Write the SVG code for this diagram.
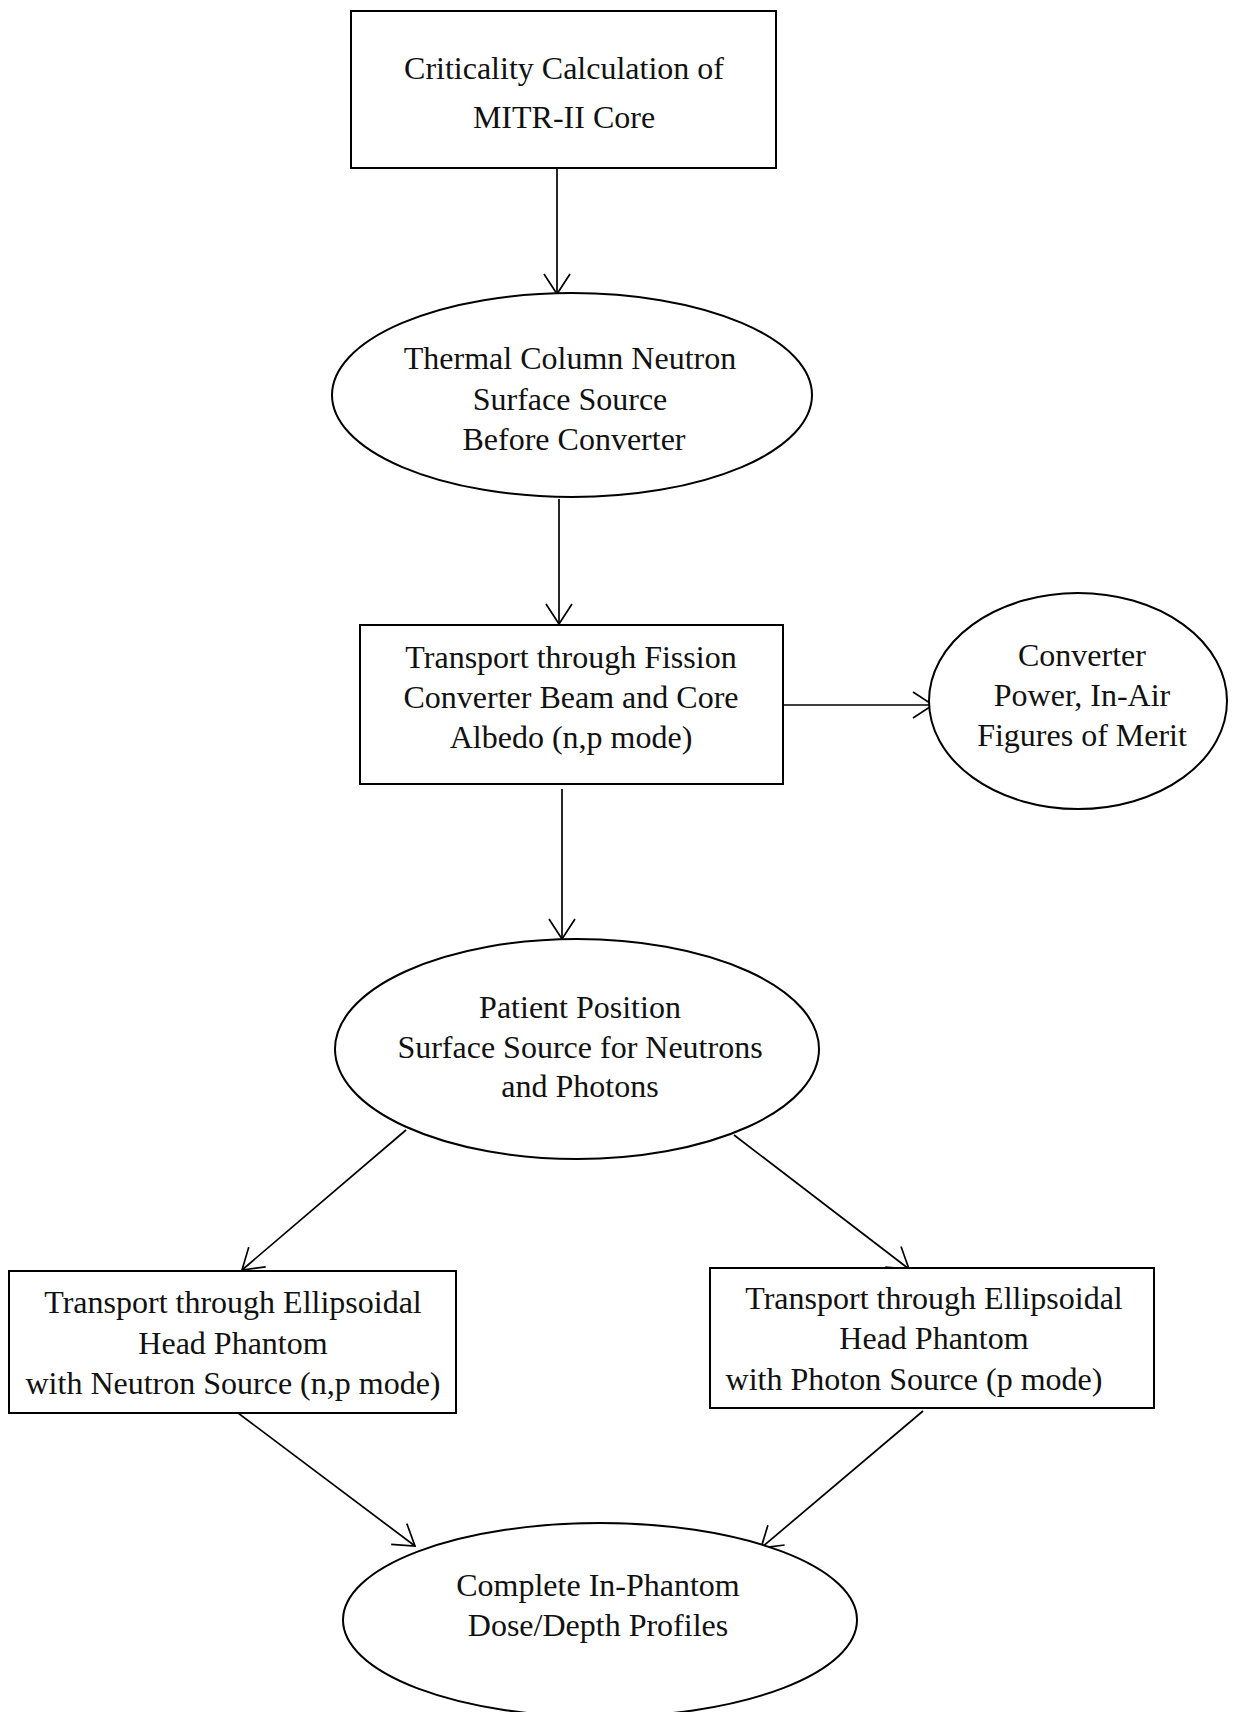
<svg xmlns="http://www.w3.org/2000/svg" width="1239" height="1712" viewBox="0 0 1239 1712">
<defs>
<style>
.n{fill:#fff;stroke:#000;stroke-width:2}
.t{font-family:"Liberation Serif","Times New Roman",serif;font-size:32px;fill:#111;text-anchor:middle}
.c{stroke:#000;stroke-width:1.7;fill:none;marker-end:url(#ah)}
</style>
<marker id="ah" viewBox="0 0 22 28" refX="21" refY="14" markerWidth="22" markerHeight="28" markerUnits="userSpaceOnUse" orient="auto">
<polyline points="1,1 21,14 1,27" fill="none" stroke="#000" stroke-width="1.7"/>
</marker>
</defs>
<rect width="1239" height="1712" fill="#fff"/>
<g id="connectors">
<line class="c" x1="557" y1="168" x2="557" y2="294"/>
<line class="c" x1="559" y1="499" x2="559" y2="624"/>
<line class="c" x1="783" y1="705" x2="933" y2="705"/>
<line class="c" x1="562" y1="789" x2="562" y2="939"/>
<line class="c" x1="406" y1="1130" x2="242" y2="1270"/>
<line class="c" x1="734" y1="1135" x2="909" y2="1269"/>
<line class="c" x1="238" y1="1413" x2="415" y2="1546"/>
<line class="c" x1="923" y1="1411" x2="761" y2="1548"/>
</g>
<g id="n1">
<rect class="n" x="351" y="11" width="425" height="157"/>
<text class="t" x="564" y="79">Criticality Calculation of</text>
<text class="t" x="564" y="128">MITR-II Core</text>
</g>
<g id="n2">
<ellipse class="n" cx="572" cy="395" rx="240" ry="102"/>
<text class="t" x="570" y="369">Thermal Column Neutron</text>
<text class="t" x="570" y="410">Surface Source</text>
<text class="t" x="574" y="450">Before Converter</text>
</g>
<g id="n3">
<rect class="n" x="360" y="625" width="423" height="159"/>
<text class="t" x="571" y="668">Transport through Fission</text>
<text class="t" x="571" y="708">Converter Beam and Core</text>
<text class="t" x="571" y="748">Albedo (n,p mode)</text>
</g>
<g id="n4">
<ellipse class="n" cx="1078" cy="701" rx="149" ry="108"/>
<text class="t" x="1082" y="666">Converter</text>
<text class="t" x="1082" y="706">Power, In-Air</text>
<text class="t" x="1082" y="746">Figures of Merit</text>
</g>
<g id="n5">
<ellipse class="n" cx="577" cy="1049" rx="242" ry="110"/>
<text class="t" x="580" y="1018">Patient Position</text>
<text class="t" x="580" y="1058">Surface Source for Neutrons</text>
<text class="t" x="580" y="1097">and Photons</text>
</g>
<g id="n6">
<rect class="n" x="9" y="1271" width="447" height="142"/>
<text class="t" x="233" y="1313">Transport through Ellipsoidal</text>
<text class="t" x="233" y="1354">Head Phantom</text>
<text class="t" x="233" y="1394">with Neutron Source (n,p mode)</text>
</g>
<g id="n7">
<rect class="n" x="710" y="1268" width="444" height="140"/>
<text class="t" x="934" y="1309">Transport through Ellipsoidal</text>
<text class="t" x="934" y="1349">Head Phantom</text>
<text class="t" x="914" y="1390">with Photon Source (p mode)</text>
</g>
<g id="n8">
<ellipse class="n" cx="600" cy="1620" rx="257" ry="97"/>
<text class="t" x="598" y="1596">Complete In-Phantom</text>
<text class="t" x="598" y="1636">Dose/Depth Profiles</text>
</g>
</svg>
